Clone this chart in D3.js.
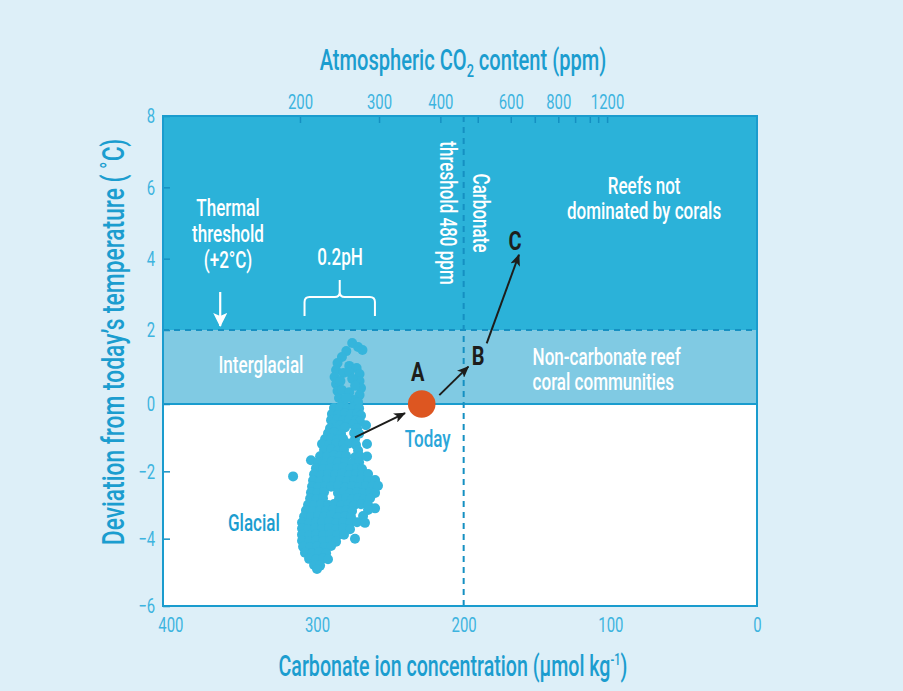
<!DOCTYPE html>
<html>
<head>
<meta charset="utf-8">
<script src="https://cdn.jsdelivr.net/npm/d3@7"></script>
<style>
  html, body { margin: 0; padding: 0; background: #ffffff; }
  svg { display: block; }
  text { font-family: Roboto, 'DejaVu Sans Condensed', sans-serif; font-weight: 500; }
</style>
</head>
<body>
<script>
// Axis ticks
const carbonateTicks = [400, 300, 200, 100, 0];
const temperatureTicks = [-6, -4, -2, 0, 2, 4, 6, 8];
const co2Ticks = [200, 300, 400, 500, 600, 700, 800, 900, 1000, 1100, 1200];
const co2Labelled = [200, 300, 400, 600, 800, 1200];
// carbonate ion concentration equivalent to each CO2 tick (µmol/kg)
const co2AsCarbonate = [311.6, 257.7, 215.9, 190.4, 167.9, 151.5, 135.5, 124, 114, 108.3, 102.2];

// Temperature bands (°C) and the carbonate threshold (µmol/kg)
const bandBounds = [0, 2, 8];
const carbonateThreshold = 200;

// Vostok-type record: [carbonate ion, temperature deviation]
const iceCoreRecord = [
  [276,1.65],[272,1.54],[269,1.46],[280,1.43],[283,1.27],[286,1.11],[287,0.92],[288,0.73],
  [287,0.54],[286,0.35],[285,0.16],[282,0.05],[278,1.03],[273,0.97],[271,0.81],[271,0.62],
  [270,0.43],[271,0.24],[275,0.11],[282,0.84],[278,0.86],[276,0.68],[284,0.62],[283,0.38],
  [278,0.32],[274,0.49],[280,0.16],[272,0.05],
  [288.4,-0.12],[284.3,-0.10],[279.5,-0.14],[275.4,-0.11],[271.3,-0.13],
  [289.8,-0.30],[285.7,-0.33],[280.9,-0.28],[276.8,-0.31],[272.7,-0.29],[270.0,-0.34],
  [290.4,-0.48],[286.3,-0.45],[282.2,-0.50],[278.2,-0.47],[273.4,-0.49],[270.7,-0.52],
  [266.6,-0.63],[289.1,-0.62],[284.3,-0.64],[275.4,-0.61],
  [291.1,-0.72],[287.0,-0.74],[280.9,-0.70],[272.7,-0.73],
  [292.5,-0.87],[288.4,-0.85],[283.6,-0.89],[274.7,-0.86],[271.3,-0.88],
  [294.5,-1.04],[290.4,-1.02],[286.3,-1.06],[282.2,-1.03],[274.1,-1.05],
  [296.6,-1.19],[291.8,-1.21],[287.0,-1.18],[282.2,-1.20],[278.2,-1.17],[273.4,-1.22],[265.9,-1.19],
  [295.2,-1.37],[290.4,-1.35],[285.7,-1.39],[281.6,-1.36],[272.0,-1.38],
  [297.9,-1.55],[293.2,-1.57],[288.4,-1.53],[284.3,-1.56],[280.2,-1.54],[274.1,-1.58],[270.7,-1.55],[265.9,-1.56],
  [304.1,-1.67],
  [299.3,-1.73],[294.5,-1.75],[289.8,-1.71],[285.7,-1.74],[280.9,-1.72],[276.1,-1.76],[271.3,-1.73],
  [300.7,-1.91],[295.9,-1.93],[291.1,-1.90],[286.3,-1.92],[282.2,-1.89],[277.5,-1.94],[272.7,-1.91],[269.3,-1.93],
  [302.0,-2.09],[297.2,-2.11],[292.5,-2.08],[287.7,-2.10],[282.9,-2.07],[278.2,-2.12],[273.4,-2.09],[269.3,-2.11],[265.2,-2.08],
  [316.3,-2.15],
  [302.7,-2.27],[297.9,-2.29],[293.2,-2.25],[288.4,-2.28],[284.3,-2.26],[279.5,-2.30],[274.7,-2.27],[270.0,-2.25],[265.2,-2.29],[260.4,-2.26],
  [303.4,-2.45],[299.3,-2.47],[294.5,-2.44],[290.4,-2.46],[285.7,-2.43],[280.9,-2.48],[276.1,-2.45],[271.3,-2.47],[266.6,-2.44],[262.5,-2.46],[258.4,-2.43],
  [304.1,-2.63],[300.0,-2.65],[295.2,-2.62],[285.7,-2.64],[281.6,-2.61],[277.5,-2.66],[272.7,-2.63],[268.6,-2.65],[263.8,-2.62],[260.4,-2.64],
  [304.7,-2.81],[300.7,-2.83],[295.9,-2.80],[285.0,-2.82],[280.2,-2.79],[276.1,-2.84],[272.0,-2.81],[267.9,-2.83],[263.8,-2.80],
  [306.1,-2.99],[302.0,-3.01],[297.2,-2.98],[292.5,-3.00],[288.4,-2.97],[283.6,-3.02],[278.8,-2.99],[274.7,-3.01],[270.0,-2.98],[265.2,-3.00],
  [260.4,-3.10],
  [307.5,-3.16],[302.7,-3.18],[297.9,-3.15],[293.8,-3.17],[289.1,-3.14],[284.3,-3.19],[280.2,-3.16],[276.1,-3.18],[265.2,-3.15],
  [308.8,-3.34],[304.1,-3.36],[299.3,-3.33],[295.2,-3.35],[290.4,-3.32],[285.7,-3.37],[280.9,-3.34],[276.8,-3.36],[268.6,-3.33],
  [310.2,-3.52],[305.4,-3.54],[300.7,-3.51],[296.6,-3.53],[291.8,-3.50],[287.0,-3.55],[282.2,-3.52],[277.5,-3.54],[272.7,-3.51],[267.3,-3.53],
  [310.2,-3.70],[306.1,-3.72],[301.3,-3.69],[296.6,-3.71],[291.8,-3.68],[287.0,-3.73],[282.2,-3.70],[277.5,-3.72],
  [310.2,-3.88],[305.4,-3.90],[300.7,-3.87],[295.9,-3.89],[291.1,-3.86],[286.3,-3.91],[281.6,-3.88],[274.1,-4.00],
  [310.2,-4.06],[305.4,-4.08],[300.7,-4.05],[295.9,-4.07],[291.1,-4.04],[287.0,-4.09],
  [309.5,-4.24],[304.7,-4.26],[300.0,-4.23],[295.2,-4.25],[290.4,-4.22],
  [308.2,-4.42],[303.4,-4.44],[298.6,-4.41],[293.8,-4.43],
  [305.4,-4.60],[300.7,-4.62],[295.9,-4.59],[292.5,-4.61],
  [302.0,-4.78],[297.9,-4.80],
  [300.0,-4.90]
];

// Today's state and the projected trajectory A -> B -> C
const today = [228.6, 0];
const trajectory = [
  { from: [274.1, -0.99], to: [240.0, -0.27] },
  { from: [216.6, 0.24],  to: [196.8, 1.01] },
  { from: [184.3, 1.64],  to: [162.3, 4.11] }
];
const stateLabels = [
  { text: "A", at: [231.4, 0.84] },
  { text: "B", at: [190.2, 1.27] },
  { text: "C", at: [165.0, 4.48] }
];

const W = 903, H = 691;
const C = {
  page: "#ddeff8",
  warm: "#2bb2d9",
  inter: "#80cae3",
  frame: "#1a9cce",
  dash: "#1590c2",
  title: "#1b9dcf",
  tick: "#3db4df",
  dots: "#35b5dc",
  today: "#dd5621",
  ink: "#1d1d1b"
};
const SQUEEZE = 0.71; // condensed lettering

const x = d3.scaleLinear().domain([405, 0]).range([163, 757]);
const y = d3.scaleLinear().domain([-6, 0, 2, 8]).range([606, 404, 330, 116]);
const co2ToCarbonate = d3.scaleLinear().domain(co2Ticks).range(co2AsCarbonate);
const xCo2 = d3.scaleLinear().domain(co2Ticks).range(co2Ticks.map(v => x(co2ToCarbonate(v))));

const svg = d3.select("body").append("svg").attr("width", W).attr("height", H);

svg.append("rect").attr("width", W).attr("height", H).attr("fill", C.page);

const [x0, x1] = x.range();
const yTop = y(8), yBot = y(-6);

// plot background and temperature bands
svg.append("rect").attr("x", x0).attr("y", yTop).attr("width", x1 - x0).attr("height", yBot - yTop).attr("fill", "#ffffff");
svg.append("rect").attr("x", x0).attr("y", y(bandBounds[2])).attr("width", x1 - x0)
  .attr("height", y(bandBounds[1]) - y(bandBounds[2])).attr("fill", C.warm);
svg.append("rect").attr("x", x0).attr("y", y(bandBounds[1])).attr("width", x1 - x0)
  .attr("height", y(bandBounds[0]) - y(bandBounds[1])).attr("fill", C.inter);

// boundary at today's temperature
svg.append("line").attr("x1", x0).attr("x2", x1).attr("y1", y(0)).attr("y2", y(0))
  .attr("stroke", C.frame).attr("stroke-width", 2);

// thermal threshold (+2 °C) and carbonate threshold (dashed)
svg.append("line").attr("x1", x0).attr("x2", x1).attr("y1", y(2)).attr("y2", y(2))
  .attr("stroke", C.dash).attr("stroke-width", 2).attr("stroke-dasharray", "6,5");
svg.append("line").attr("x1", x(carbonateThreshold)).attr("x2", x(carbonateThreshold))
  .attr("y1", yTop).attr("y2", yBot)
  .attr("stroke", C.dash).attr("stroke-width", 2).attr("stroke-dasharray", "6,5");

// axes
const styleAxis = (g) => {
  g.select(".domain").remove();
  g.selectAll(".tick line").attr("stroke", C.dash).attr("stroke-width", 1.5);
  g.selectAll(".tick text").attr("fill", C.tick).attr("font-size", 21)
    .style("font-family", "Roboto, sans-serif").style("font-weight", 400)
    .attr("transform", `scale(${SQUEEZE},1)`);
};

svg.append("g").attr("transform", `translate(0,${yTop})`)
  .call(d3.axisTop(xCo2).tickValues(co2Ticks).tickSize(-7).tickPadding(7)
    .tickFormat(d => co2Labelled.includes(d) ? d : ""))
  .call(styleAxis);

svg.append("g").attr("transform", `translate(${x0},0)`)
  .call(d3.axisLeft(y).tickValues(temperatureTicks).tickSize(-7).tickPadding(11))
  .call(styleAxis);

svg.append("g").attr("transform", `translate(0,${yBot})`)
  .call(d3.axisBottom(x).tickValues(carbonateTicks).tickSize(0).tickPadding(11))
  .call(styleAxis);

// plot frame
svg.append("rect").attr("x", x0).attr("y", yTop).attr("width", x1 - x0).attr("height", yBot - yTop)
  .attr("fill", "none").attr("stroke", C.frame).attr("stroke-width", 2);

// ice-core record
svg.append("g").selectAll("circle").data(iceCoreRecord).join("circle")
  .attr("cx", d => x(d[0])).attr("cy", d => y(d[1])).attr("r", 5)
  .attr("fill", C.dots);

// arrowhead markers
const defs = svg.append("defs");
defs.append("marker").attr("id", "head").attr("viewBox", "0 0 12 10")
  .attr("refX", 11).attr("refY", 5).attr("markerWidth", 12).attr("markerHeight", 10)
  .attr("markerUnits", "userSpaceOnUse").attr("orient", "auto")
  .append("path").attr("d", "M0,0 L12,5 L0,10 L3,5 Z").attr("fill", C.ink);
defs.append("marker").attr("id", "headWhite").attr("viewBox", "0 0 14 14")
  .attr("refX", 13).attr("refY", 7).attr("markerWidth", 14).attr("markerHeight", 14)
  .attr("markerUnits", "userSpaceOnUse").attr("orient", "auto")
  .append("path").attr("d", "M0,0 L14,7 L0,14 L3,7 Z").attr("fill", "#ffffff");

svg.append("g").selectAll("line").data(trajectory).join("line")
  .attr("x1", d => x(d.from[0])).attr("y1", d => y(d.from[1]))
  .attr("x2", d => x(d.to[0])).attr("y2", d => y(d.to[1]))
  .attr("stroke", C.ink).attr("stroke-width", 2).attr("marker-end", "url(#head)");

// today
svg.append("circle").attr("cx", x(today[0])).attr("cy", y(today[1])).attr("r", 13.8).attr("fill", C.today);

// text placed at (cx, cy), squeezed horizontally
function squeezed(cx, cy, str, opts = {}) {
  const g = svg.append("g")
    .attr("transform", `translate(${cx},${cy}) rotate(${opts.rotate || 0}) scale(${opts.sx || SQUEEZE},1)`);
  const t = g.append("text")
    .attr("text-anchor", opts.anchor || "middle")
    .attr("dominant-baseline", "central")
    .attr("font-size", opts.size || 24)
    .style("font-weight", opts.weight || 500)
    .attr("fill", opts.fill || "#ffffff")
    .text(str);
  return t;
}
function label(lines, cx, cy, opts = {}) {
  const lh = opts.lh || 26;
  lines.forEach((ln, i) => {
    const off = (i - (lines.length - 1) / 2) * lh;
    if (opts.rotate) squeezed(cx - off, cy, ln, opts);
    else squeezed(cx, cy + off, ln, opts);
  });
}

stateLabels.forEach(d => squeezed(x(d.at[0]), y(d.at[1]), d.text,
  { size: 25, weight: 700, fill: C.ink, sx: 0.8 }));

squeezed(x(today[0]) + 6, y(-1.05), "Today", { fill: "#2aa6d9" });

label(["Thermal", "threshold", "(+2°C)"], x(360.7), y(4.69), { lh: 26 });
svg.append("line").attr("x1", x(366)).attr("x2", x(366)).attr("y1", y(2) - 38).attr("y2", y(2) - 4)
  .attr("stroke", "#ffffff").attr("stroke-width", 2.2).attr("marker-end", "url(#headWhite)");

label(["0.2pH"], x(284.3), y(4.06));
// brace spanning 0.2 pH units of carbonate
{
  const bl = x(308.5), br = x(260.5), bm = (bl + br) / 2;
  const yb = y(2) - 14, yh = y(2) - 33, yt = y(2) - 50;
  const r = 5;
  const d = `M${bl},${yb} L${bl},${yh + r} Q${bl},${yh} ${bl + r},${yh} L${bm - r},${yh} Q${bm},${yh} ${bm},${yh - r} L${bm},${yt}` +
            ` M${bm},${yh - r} Q${bm},${yh} ${bm + r},${yh} L${br - r},${yh} Q${br},${yh} ${br},${yh + r} L${br},${yb}`;
  svg.append("path").attr("d", d).attr("fill", "none").attr("stroke", "#ffffff").attr("stroke-width", 2);
}

label(["Interglacial"], x(338.2), y(1.05));
label(["Glacial"], x(343), y(-3.52), { fill: C.title });
label(["Reefs not", "dominated by corals"], x(77), y(5.68), { lh: 25 });
label(["Non-carbonate reef", "coral communities"], x(153), y(0.93), { anchor: "start", lh: 25 });

// carbonate threshold label (vertical)
label(["Carbonate", "threshold 480 ppm"], x(200) + 1, y(5.28), { rotate: 90, lh: 33 });

// axis titles
{
  const g = svg.append("g").attr("transform", `translate(463,70) scale(0.67,1)`);
  const t = g.append("text").attr("text-anchor", "middle").attr("font-size", 30).attr("fill", C.title);
  t.append("tspan").text("Atmospheric CO");
  t.append("tspan").attr("font-size", 19).attr("dy", 7).text("2");
  t.append("tspan").attr("dy", -7).text(" content (ppm)");
}
{
  const g = svg.append("g").attr("transform", `translate(453,676) scale(0.655,1)`);
  const t = g.append("text").attr("text-anchor", "middle").attr("font-size", 30).attr("fill", C.title);
  t.append("tspan").text("Carbonate ion concentration (µmol kg");
  t.append("tspan").attr("font-size", 17).attr("dy", -11).text("-1");
  t.append("tspan").attr("dy", 11).text(")");
}
{
  const g = svg.append("g").attr("transform", `translate(124,342) rotate(-90) scale(0.735,1)`);
  g.append("text").attr("text-anchor", "middle").attr("font-size", 31).attr("fill", C.title)
    .text("Deviation from today’s temperature ( ˚C)");
}
</script>
</body>
</html>
